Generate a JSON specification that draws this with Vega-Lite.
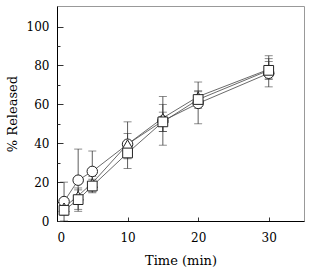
{
  "$schema": "https://vega.github.io/schema/vega-lite/v6.json",
  "width": 247,
  "height": 215,
  "autosize": {"type": "none"},
  "padding": {"left": 57, "top": 6, "right": 10, "bottom": 51},
  "background": "white",
  "config": {
    "view": {"stroke": "#999999", "strokeWidth": 1},
    "font": "DejaVu Serif",
    "axis": {
      "grid": false,
      "domainColor": "black",
      "tickColor": "#333333",
      "labelColor": "black",
      "titleColor": "black",
      "labelFont": "DejaVu Serif",
      "titleFont": "DejaVu Serif",
      "labelFontSize": 12,
      "titleFontSize": 13,
      "titleFontWeight": "normal"
    }
  },
  "data": {
    "values": [
      {"s": "A", "t": 1, "v": 10, "lo": 0, "hi": 20},
      {"s": "A", "t": 3, "v": 21, "lo": 5, "hi": 37},
      {"s": "A", "t": 5, "v": 25.5, "lo": 15, "hi": 36},
      {"s": "A", "t": 10, "v": 39.5, "lo": 27, "hi": 51},
      {"s": "A", "t": 15, "v": 51.5, "lo": 39, "hi": 64},
      {"s": "A", "t": 20, "v": 60.5, "lo": 50, "hi": 71.5},
      {"s": "A", "t": 30, "v": 76, "lo": 69, "hi": 85},
      {"s": "B", "t": 1, "v": 7, "lo": 4, "hi": 10},
      {"s": "B", "t": 3, "v": 13, "lo": 9, "hi": 17},
      {"s": "B", "t": 5, "v": 19.5, "lo": 16, "hi": 23},
      {"s": "B", "t": 10, "v": 39.5, "lo": 33, "hi": 45},
      {"s": "B", "t": 15, "v": 53, "lo": 46, "hi": 60},
      {"s": "B", "t": 20, "v": 64, "lo": 60, "hi": 66.5},
      {"s": "B", "t": 30, "v": 78, "lo": 73, "hi": 83.5},
      {"s": "C", "t": 1, "v": 5.5, "lo": 3, "hi": 8},
      {"s": "C", "t": 3, "v": 11, "lo": 6, "hi": 16},
      {"s": "C", "t": 5, "v": 18, "lo": 14.5, "hi": 21.5},
      {"s": "C", "t": 10, "v": 35, "lo": 32, "hi": 38},
      {"s": "C", "t": 15, "v": 51, "lo": 46, "hi": 56},
      {"s": "C", "t": 20, "v": 62.5, "lo": 58, "hi": 67},
      {"s": "C", "t": 30, "v": 77.5, "lo": 73, "hi": 82}
    ]
  },
  "resolve": {"axis": {"y": "independent"}},
  "layer": [
    {
      "mark": {"type": "errorbar", "ticks": {"size": 8, "color": "#333333"}, "color": "#333333", "thickness": 0.8},
      "encoding": {
        "x": {"field": "t", "type": "quantitative",
          "scale": {"domain": [0, 35], "nice": false},
          "axis": {"values": [0, 10, 20, 30], "tickSize": -4, "labelPadding": 15, "title": "Time (min)", "titlePadding": 11}
        },
        "y": {"field": "lo", "type": "quantitative",
          "scale": {"domain": [0, 110.6], "nice": false},
          "axis": {
            "orient": "left",
            "values": [0, 20, 40, 60, 80, 100],
            "tickSize": -6,
            "labelPadding": 14,
            "title": "% Released",
            "titlePadding": 7
          }
        },
        "y2": {"field": "hi"},
        "detail": {"field": "s"}
      }
    },
    {
      "mark": {"type": "line", "color": "#444444", "strokeWidth": 0.8},
      "encoding": {
        "x": {"field": "t", "type": "quantitative"},
        "y": {"field": "v", "type": "quantitative",
          "axis": {
            "orient": "left",
            "offset": 0,
            "values": [10, 30, 50, 70, 90],
            "tickSize": -3,
            "labels": false,
            "domain": false,
            "title": null
          }
        },
        "detail": {"field": "s"}
      }
    },
    {
      "mark": {"type": "point", "filled": true, "fill": "white", "stroke": "#222222", "strokeWidth": 1, "opacity": 1},
      "encoding": {
        "x": {"field": "t", "type": "quantitative"},
        "y": {"field": "v", "type": "quantitative", "axis": null},
        "shape": {"field": "s", "type": "nominal", "scale": {"domain": ["A", "B", "C"], "range": ["circle", "triangle-up", "square"]}, "legend": null},
        "size": {"field": "s", "type": "nominal", "scale": {"domain": ["A", "B", "C"], "range": [110, 95, 125]}, "legend": null},
        "order": {"field": "s"}
      }
    }
  ]
}
